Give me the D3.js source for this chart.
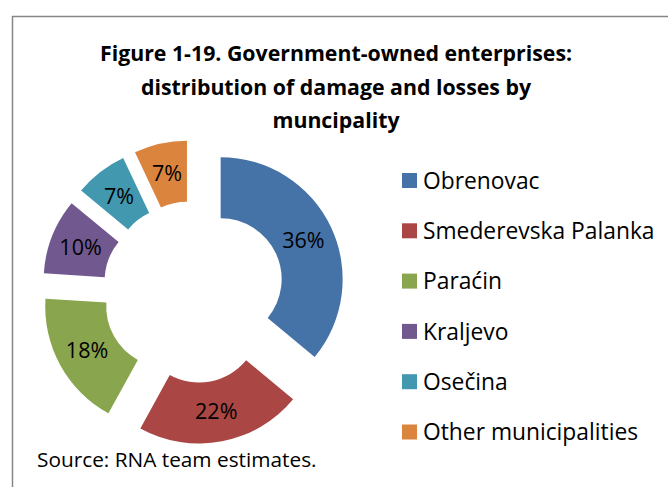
<!DOCTYPE html>
<html lang="en">
<head>
<meta charset="utf-8">
<title>government-owned enterprises</title>
<script type="text/javascript" src="https://cdn.jsdelivr.net/npm/d3@7"></script>
<style type="text/css">
	body { margin: 0; background: #fff; }
	text { font-family: "Open Sans", "DejaVu Sans", sans-serif; fill: #000; }
</style>
</head>
<body>
<div id="chart"></div>
<script type="text/javascript">

var municipalities = ["Obrenovac", "Smederevska Palanka", "Paraćin", "Kraljevo", "Osečina", "Other municipalities"]
var shares = [36, 22, 18, 10, 7, 7]
var colors = ["#4572A7", "#AA4643", "#89A54E", "#71588F", "#4198AF", "#DB843D"]
var titleLines = ["Figure 1-19. Government-owned enterprises:", "distribution of damage and losses by", "muncipality"]
var sourceNote = "Source: RNA team estimates."

var w = 668
var h = 487

var svg = d3.select("#chart").append("svg")
	.attr("width", w)
	.attr("height", h)

// frame of the chart area, runs off the right and bottom edge
svg.append("path")
	.attr("d", "M12.5," + (h + 5) + "V16.5H" + (w + 5))
	.attr("fill", "none")
	.attr("stroke", "#868686")
	.attr("stroke-width", 1.5)

svg.selectAll(".title")
	.data(titleLines)
	.enter()
	.append("text")
	.attr("class", "title")
	.attr("x", 336)
	.attr("y", function(d, i){ return 61 + i * 33.5 })
	.attr("text-anchor", "middle")
	.style("font-weight", "bold")
	.style("font-size", "21.3px")
	.text(function(d){ return d })

// doughnut, every slice pulled out from the centre
var cx = 193.5
var cy = 292
var outerR = 122
var innerR = 61
var explode = 30

var pie = d3.pie().sort(null).value(function(d){ return d })
var arc = d3.arc().innerRadius(innerR).outerRadius(outerR)
var slices = pie(shares)

var g = svg.append("g").attr("transform", "translate(" + cx + "," + cy + ")")

function shift(d){
	var a = (d.startAngle + d.endAngle) / 2
	return [Math.sin(a) * explode, -Math.cos(a) * explode]
}

g.selectAll(".slice")
	.data(slices)
	.enter()
	.append("path")
	.attr("class", "slice")
	.attr("d", arc)
	.attr("fill", function(d, i){ return colors[i] })
	.attr("transform", function(d){ return "translate(" + shift(d) + ")" })

g.selectAll(".pct")
	.data(slices)
	.enter()
	.append("text")
	.attr("class", "pct")
	.attr("transform", function(d){
		var s = shift(d)
		var c = arc.centroid(d)
		return "translate(" + (s[0] + c[0]) + "," + (s[1] + c[1]) + ")"
	})
	.attr("text-anchor", "middle")
	.attr("dy", "0.36em")
	.style("font-size", "21.5px")
	.text(function(d){ return d.data + "%" })

// legend
var legend = svg.selectAll(".legend")
	.data(municipalities)
	.enter()
	.append("g")
	.attr("class", "legend")
	.attr("transform", function(d, i){ return "translate(402," + (180.5 + i * 50.3) + ")" })

legend.append("rect")
	.attr("x", 0)
	.attr("y", -7.5)
	.attr("width", 15)
	.attr("height", 15)
	.attr("fill", function(d, i){ return colors[i] })

legend.append("text")
	.attr("x", 21)
	.attr("dy", "0.36em")
	.style("font-size", "22.8px")
	.text(function(d){ return d })

svg.append("text")
	.attr("x", 37)
	.attr("y", 467)
	.style("font-size", "20.8px")
	.text(sourceNote)

</script>
</body>
</html>
